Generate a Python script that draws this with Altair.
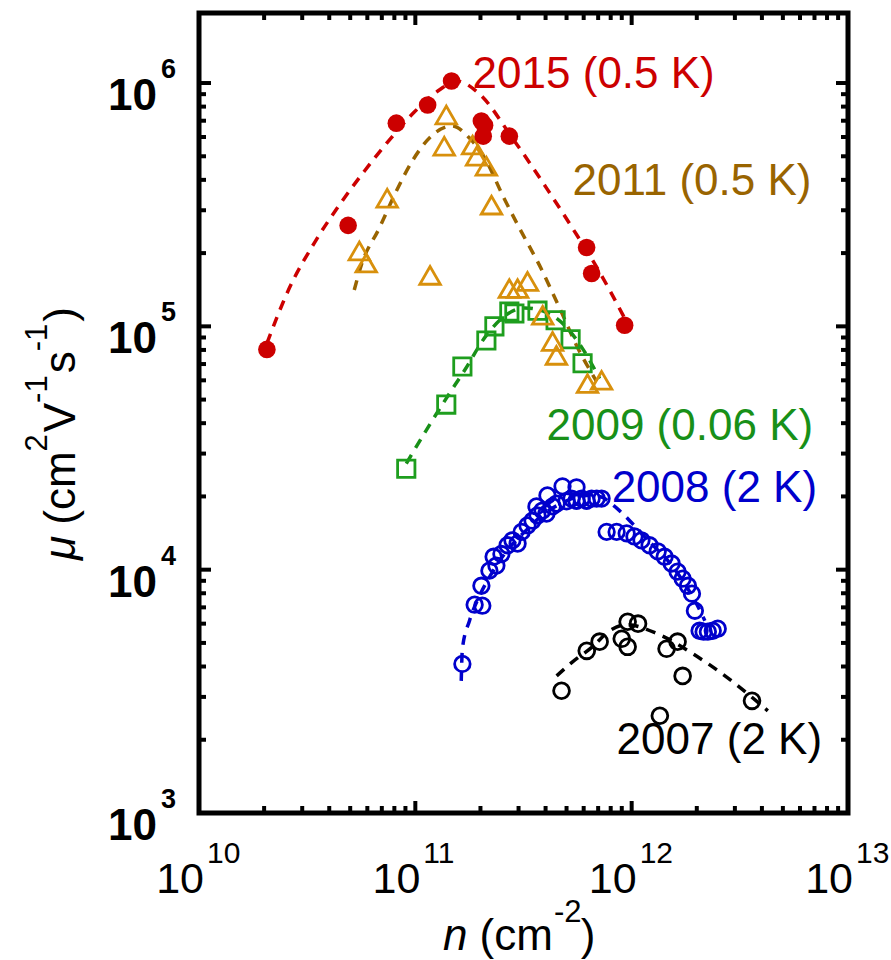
import altair as alt
import pandas as pd

# ---------------- measured data: mobility mu (cm^2/Vs) vs density n (cm^-2) ----------------
# 2015 (0.5 K) - filled red circles
n_2015 = [2.06e10, 4.89e10, 8.17e10, 1.14e11, 1.47e11, 2.02e11, 2.09e11, 2.06e11, 2.72e11, 6.19e11, 6.53e11, 9.28e11]
mu_2015 = [8.04e4, 2.60e5, 6.84e5, 8.12e5, 1.02e6, 6.98e5, 6.70e5, 6.05e5, 6.05e5, 2.11e5, 1.65e5, 1.01e5]
fit_n_2015 = [2.06e10, 2.61e10, 3.41e10, 4.45e10, 5.81e10, 7.58e10, 9.89e10, 1.29e11, 1.55e11,
              1.98e11, 2.81e11, 4.04e11, 5.33e11, 7.11e11, 9.28e11]
fit_mu_2015 = [8.51e4, 1.43e5, 2.20e5, 3.15e5, 4.34e5, 5.83e5, 7.60e5, 9.36e5, 1.02e6,
               9.01e5, 5.94e5, 3.70e5, 2.53e5, 1.67e5, 1.08e5]

# 2011 (0.5 K) - open triangles
n_2011 = [1.39e11, 1.36e11, 1.84e11, 1.92e11, 2.13e11, 2.25e11, 7.41e10, 5.51e10, 5.93e10,
          1.17e11, 2.72e11, 2.97e11, 3.30e11, 3.88e11, 4.31e11, 4.49e11, 6.25e11, 7.26e11]
mu_2011 = [7.39e5, 5.50e5, 5.56e5, 5.00e5, 4.55e5, 3.15e5, 3.36e5, 2.04e5, 1.82e5,
           1.62e5, 1.43e5, 1.43e5, 1.53e5, 1.11e5, 8.67e4, 7.60e4, 5.82e4, 6.00e4]
fit_n_2011 = [5.22e10, 5.62e10, 6.81e10, 8.16e10, 9.68e10, 1.20e11, 1.48e11, 1.78e11, 2.13e11,
              2.53e11, 3.03e11, 3.75e11, 4.64e11, 5.56e11, 6.88e11]
fit_mu_2011 = [1.41e5, 1.78e5, 2.53e5, 3.59e5, 4.78e5, 6.11e5, 6.66e5, 5.94e5, 4.78e5,
               3.46e5, 2.53e5, 1.78e5, 1.19e5, 8.35e4, 5.94e4]

# 2009 (0.06 K) - open squares
n_2009 = [9.08e10, 1.39e11, 1.65e11, 2.13e11, 2.32e11, 2.72e11, 2.87e11, 3.67e11, 4.45e11, 5.22e11, 5.93e11]
mu_2009 = [2.60e4, 4.77e4, 6.84e4, 8.75e4, 1.00e5, 1.15e5, 1.13e5, 1.16e5, 1.06e5, 8.85e4, 7.05e4]
fit_n_2009 = [9.08e10, 1.16e11, 1.39e11, 1.69e11, 2.13e11, 2.58e11, 3.20e11, 3.95e11, 4.90e11, 5.93e11, 7.11e11]
fit_mu_2009 = [2.73e4, 3.92e4, 5.06e4, 6.60e4, 9.18e4, 1.10e5, 1.19e5, 1.15e5, 1.01e5, 8.10e4, 6.10e4]

# 2008 (2 K) - open blue circles
n_2008 = [1.65e11, 1.88e11, 2.04e11, 2.02e11, 2.20e11, 2.37e11, 2.30e11, 2.50e11, 2.67e11, 2.81e11,
          2.97e11, 3.10e11, 3.30e11, 3.48e11, 3.67e11, 3.63e11, 3.87e11, 4.08e11, 4.04e11, 4.31e11,
          4.50e11, 4.79e11, 5.00e11, 5.27e11, 5.56e11, 5.56e11, 5.87e11, 6.19e11, 6.53e11, 6.89e11,
          7.26e11, 7.66e11, 8.52e11, 9.48e11, 1.03e12, 1.11e12, 1.21e12, 1.32e12, 1.42e12, 1.53e12,
          1.63e12, 1.72e12, 1.82e12, 1.90e12, 1.96e12, 2.06e12, 2.15e12, 2.25e12, 2.37e12, 2.50e12]
mu_2008 = [4.10e3, 7.18e3, 7.11e3, 8.59e3, 9.91e3, 1.04e4, 1.13e4, 1.16e4, 1.26e4, 1.32e4,
           1.28e4, 1.43e4, 1.52e4, 1.59e4, 1.67e4, 1.82e4, 1.75e4, 2.02e4, 1.70e4, 1.82e4,
           1.87e4, 2.20e4, 1.91e4, 1.96e4, 2.18e4, 1.92e4, 1.96e4, 1.92e4, 1.96e4, 1.96e4,
           1.96e4, 1.43e4, 1.43e4, 1.41e4, 1.37e4, 1.32e4, 1.26e4, 1.19e4, 1.13e4, 1.06e4,
           9.81e3, 9.18e3, 8.59e3, 7.97e3, 6.78e3, 5.61e3, 5.56e3, 5.56e3, 5.61e3, 5.72e3]
fit_n_2008 = [1.63e11, 1.65e11, 1.78e11, 1.98e11, 2.25e11, 2.64e11, 3.20e11, 3.95e11, 4.90e11,
              6.05e11, 7.11e11, 8.34e11, 1.00e12, 1.21e12, 1.47e12, 1.72e12, 1.96e12, 2.18e12]
fit_mu_2008 = [3.49e3, 4.73e3, 6.17e3, 7.81e3, 9.63e3, 1.19e4, 1.43e4, 1.70e4, 1.90e4,
               2.02e4, 2.00e4, 1.82e4, 1.56e4, 1.30e4, 1.09e4, 9.02e3, 7.45e3, 6.17e3]

# 2007 (2 K) - open black circles
n_2007 = [4.74e11, 6.20e11, 7.11e11, 9.58e11, 1.07e12, 9.00e11, 9.58e11, 1.45e12, 1.63e12, 1.72e12, 1.35e12, 3.60e12]
mu_2007 = [3.18e3, 4.64e3, 5.06e3, 6.11e3, 6.00e3, 5.20e3, 4.82e3, 4.73e3, 5.06e3, 3.66e3, 2.51e3, 2.89e3]
fit_n_2007 = [4.50e11, 5.33e11, 6.59e11, 7.90e11, 9.48e11, 1.31e12, 1.92e12, 2.90e12, 4.26e12]
fit_mu_2007 = [3.66e3, 4.18e3, 4.82e3, 5.61e3, 5.94e3, 5.46e3, 4.51e3, 3.49e3, 2.63e3]

# series annotations (text, anchor n, anchor mu)
label_text = ["2015 (0.5 K)", "2011 (0.5 K)", "2009 (0.06 K)", "2008 (2 K)", "2007 (2 K)"]
label_n = [1.84e11, 5.33e11, 4.04e11, 8.08e11, 8.52e11]
label_mu = [9.53e5, 3.46e5, 3.40e4, 1.905e4, 1.75e3]

# axis ticks
x_major = [1e10, 1e11, 1e12, 1e13]
x_exp = ["10", "11", "12", "13"]
x_minor = [2e10, 3e10, 4e10, 5e10, 6e10, 7e10, 8e10, 9e10,
           2e11, 3e11, 4e11, 5e11, 6e11, 7e11, 8e11, 9e11,
           2e12, 3e12, 4e12, 5e12, 6e12, 7e12, 8e12, 9e12]
y_major = [1e3, 1e4, 1e5, 1e6]
y_exp = ["3", "4", "5", "6"]
y_minor = [2e3, 3e3, 4e3, 5e3, 6e3, 7e3, 8e3, 9e3,
           2e4, 3e4, 4e4, 5e4, 6e4, 7e4, 8e4, 9e4,
           2e5, 3e5, 4e5, 5e5, 6e5, 7e5, 8e5, 9e5]

# ---------------- styling ----------------
W, H = 649, 800
FONT = "Liberation Sans"
RED, GOLD, BROWN, GREEN, SQ_GREEN, BLUE = "#cc0000", "#d8900c", "#996400", "#189018", "#1e9e1e", "#0000cc"

XS = alt.Scale(type="log", domain=[1e10, 1e13], nice=False)
YS = alt.Scale(type="log", domain=[1e3, 1.94e6], nice=False)


def xenc():
    return alt.X("n:Q", scale=XS, axis=None)


def yenc():
    return alt.Y("mu:Q", scale=YS, axis=None)


def frame(n, mu):
    return pd.DataFrame({"n": n, "mu": mu})


def fit_line(n, mu, color):
    return alt.Chart(frame(n, mu)).mark_line(
        color=color, strokeWidth=3.5, strokeDash=[10, 8], interpolate="monotone"
    ).encode(x=xenc(), y=yenc())


def symbols(n, mu, shape, color, size, filled):
    if filled:
        mark = alt.Chart(frame(n, mu)).mark_point(
            shape=shape, filled=True, fill=color, color=color, size=size, opacity=1)
    else:
        mark = alt.Chart(frame(n, mu)).mark_point(
            shape=shape, filled=False, stroke=color, color=color, size=size,
            strokeWidth=2.8, opacity=1)
    return mark.encode(x=xenc(), y=yenc())


layers = []

# fitted guide curves
layers += [
    fit_line(fit_n_2015, fit_mu_2015, RED),
    fit_line(fit_n_2011, fit_mu_2011, BROWN),
    fit_line(fit_n_2009, fit_mu_2009, GREEN),
    fit_line(fit_n_2008, fit_mu_2008, BLUE),
    fit_line(fit_n_2007, fit_mu_2007, "black"),
]

# data symbols
layers += [
    symbols(n_2008, mu_2008, "circle", BLUE, 240, False),
    symbols(n_2007, mu_2007, "circle", "black", 250, False),
    symbols(n_2009, mu_2009, "square", SQ_GREEN, 300, False),
    symbols(n_2011, mu_2011, "triangle-up", GOLD, 420, False),
    symbols(n_2015, mu_2015, "circle", RED, 310, True),
]

# series annotations
label_colors = [RED, BROWN, GREEN, BLUE, "black"]
for txt, nn, mm, col in zip(label_text, label_n, label_mu, label_colors):
    layers.append(
        alt.Chart(pd.DataFrame({"n": [nn], "mu": [mm], "t": [txt]})).mark_text(
            align="left", baseline="alphabetic", fontSize=44, font=FONT, color=col
        ).encode(x=xenc(), y=yenc(), text="t:N")
    )


# inward ticks on all four sides
def xticks(vals, length):
    d = pd.DataFrame({"v": vals})
    xe = alt.X("v:Q", scale=XS, axis=None)
    bottom = alt.Chart(d).mark_rule(color="black", strokeWidth=4).encode(
        x=xe, y=alt.value(H), y2=alt.value(H - length))
    top = alt.Chart(d).mark_rule(color="black", strokeWidth=4).encode(
        x=xe, y=alt.value(0), y2=alt.value(length))
    return [bottom, top]


def yticks(vals, length):
    d = pd.DataFrame({"v": vals})
    ye = alt.Y("v:Q", scale=YS, axis=None)
    left = alt.Chart(d).mark_rule(color="black", strokeWidth=4).encode(
        y=ye, x=alt.value(0), x2=alt.value(length))
    right = alt.Chart(d).mark_rule(color="black", strokeWidth=4).encode(
        y=ye, x=alt.value(W), x2=alt.value(W - length))
    return [left, right]


layers += xticks(x_major, 12) + xticks(x_minor, 7) + yticks(y_major, 12) + yticks(y_minor, 7)

# tick labels: "10" with a raised exponent
xl = pd.DataFrame({"v": x_major, "e": x_exp})
layers.append(alt.Chart(xl).mark_text(
    text="10", align="right", baseline="alphabetic", fontSize=43, font=FONT, color="black", dx=5
).encode(x=alt.X("v:Q", scale=XS, axis=None), y=alt.value(H + 80)))
layers.append(alt.Chart(xl).mark_text(
    align="left", baseline="alphabetic", fontSize=30, font=FONT, color="black", dx=8
).encode(x=alt.X("v:Q", scale=XS, axis=None), y=alt.value(H + 50), text="e:N"))

yl = pd.DataFrame({"v": y_major, "e": y_exp})
layers.append(alt.Chart(yl).mark_text(
    text="10", align="right", baseline="alphabetic", fontSize=44, fontWeight="bold", font=FONT,
    color="black", dy=27
).encode(y=alt.Y("v:Q", scale=YS, axis=None), x=alt.value(-42)))
layers.append(alt.Chart(yl).mark_text(
    align="left", baseline="alphabetic", fontSize=27, fontWeight="bold", font=FONT,
    color="black", dy=-5
).encode(y=alt.Y("v:Q", scale=YS, axis=None), x=alt.value(-38), text="e:N"))


# axis titles built from pieces so exponents can be raised
def piece(txt, px, py, size, angle=0, italic=False):
    kw = dict(align="left", baseline="alphabetic", fontSize=size, font=FONT, color="black")
    if angle:
        kw["angle"] = angle
    if italic:
        kw["fontStyle"] = "italic"
    return alt.Chart(pd.DataFrame({"t": [txt]})).mark_text(**kw).encode(
        x=alt.value(px), y=alt.value(py), text="t:N")


BODY, SUP = 44, 31
# x title: n (cm^-2)
xb = H + 137
layers += [
    piece("n", 244, xb, BODY, italic=True),
    piece("(cm", 280.5, xb, BODY),
    piece("-2", 355, xb - 28, SUP),
    piece(")", 381.7, xb, BODY),
]
# y title: mu (cm^2 V^-1 s^-1), reading upwards
yb = -124
ys = yb - 28
layers += [
    piece("\u03bc", yb, 547, BODY, angle=270, italic=True),
    piece("(cm", yb, 511.7, BODY, angle=270),
    piece("2", ys, 438.4, SUP, angle=270),
    piece("V", yb, 419.2, BODY, angle=270),
    piece("-1", ys, 389.9, SUP, angle=270),
    piece("s", yb, 360.3, BODY, angle=270),
    piece("-1", ys, 338.3, SUP, angle=270),
    piece(")", yb, 308.7, BODY, angle=270),
]

chart = alt.layer(*layers).properties(
    width=W,
    height=H,
    padding={"left": 199, "top": 13, "right": 43, "bottom": 147},
    autosize=alt.AutoSizeParams(type="none"),
    background="white",
).configure(font=FONT).configure_view(stroke="black", strokeWidth=5)

chart.save("out.html", embed_options={"renderer": "svg", "actions": False})
